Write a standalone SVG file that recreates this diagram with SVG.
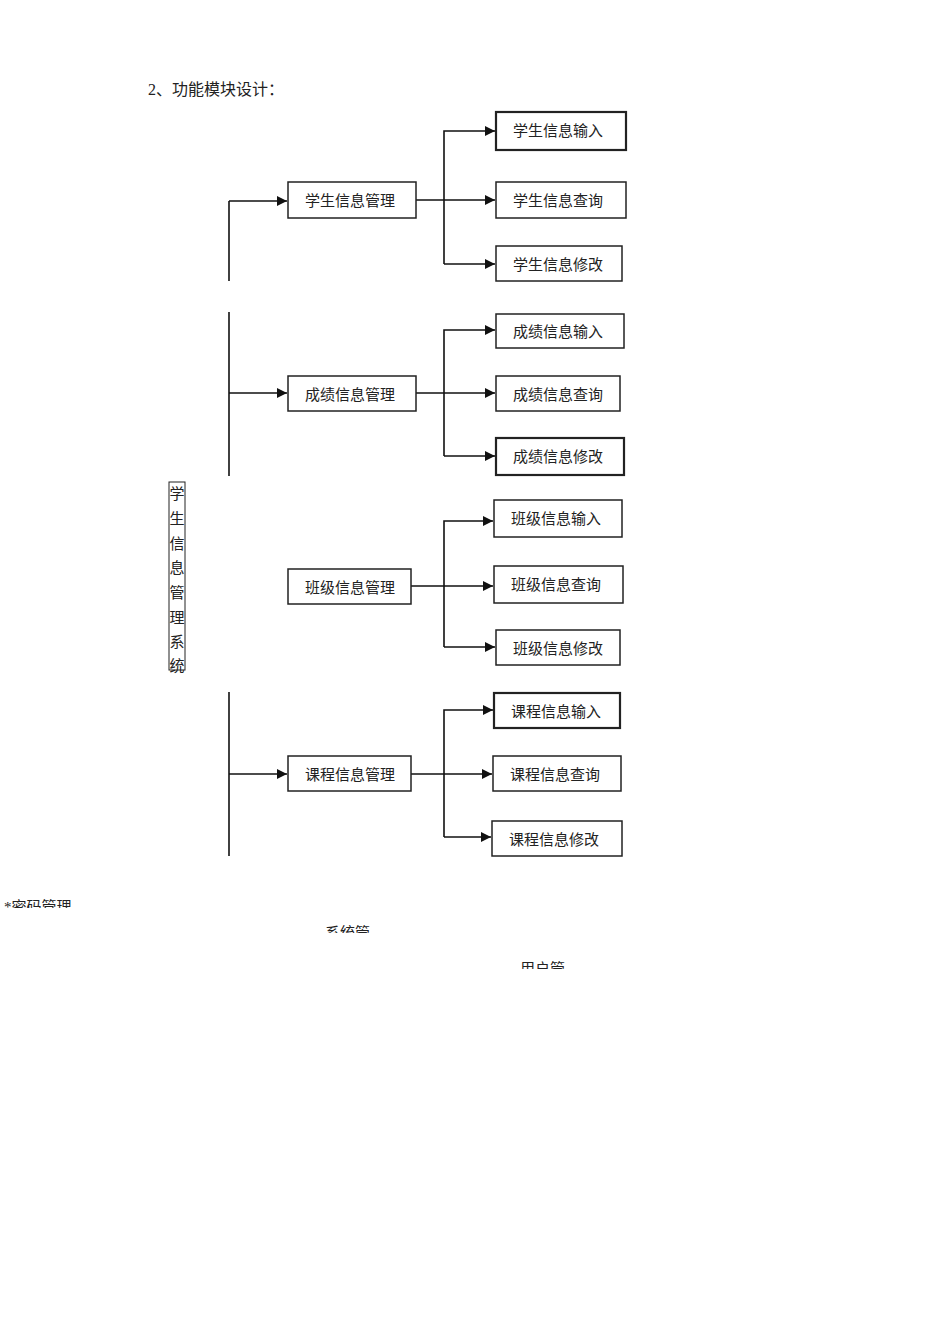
<svg xmlns="http://www.w3.org/2000/svg" width="950" height="1318" viewBox="0 0 950 1318">
<defs>
<style>
text{font-family:"Liberation Serif","Noto Sans CJK SC",serif;fill:#222}
.n{font-size:15px;text-anchor:middle}
rect{fill:#fff;stroke:#222;stroke-width:1.5}
.c path,.c line{fill:none;stroke:#111;stroke-width:1.6}
</style>
<marker id="a" viewBox="0 0 10 10" refX="10" refY="5" markerWidth="10" markerHeight="10" orient="auto" markerUnits="userSpaceOnUse"><path d="M0,0L10,5L0,10z" fill="#111"/></marker>
<clipPath id="cl"><rect x="0" y="898" width="950" height="10"/><rect x="0" y="925" width="950" height="8"/><rect x="0" y="960" width="950" height="9"/></clipPath>
</defs>
<rect width="950" height="1318" style="fill:#fff;stroke:none"/>
<text x="148" y="95" style="font-size:16px">2、功能模块设计：</text>
<g id="root"><rect x="169" y="482" width="16" height="188" style="stroke-width:1"/>
<text style="font-size:15px" text-anchor="middle"><tspan x="177" y="499">学</tspan><tspan x="177" y="524">生</tspan><tspan x="177" y="549">信</tspan><tspan x="177" y="573">息</tspan><tspan x="177" y="598">管</tspan><tspan x="177" y="623">理</tspan><tspan x="177" y="647">系</tspan><tspan x="177" y="671">统</tspan></text></g>
<g class="c">
<line x1="229" y1="281" x2="229" y2="201"/><path d="M229,201H287" marker-end="url(#a)"/>
<path d="M416,200H495" marker-end="url(#a)"/><path d="M444,264V131H495" marker-end="url(#a)"/><path d="M444,264H495" marker-end="url(#a)"/>
<line x1="229" y1="312" x2="229" y2="476"/><path d="M229,393H287" marker-end="url(#a)"/>
<path d="M416,393H495" marker-end="url(#a)"/><path d="M444,456V330H495" marker-end="url(#a)"/><path d="M444,456H495" marker-end="url(#a)"/>
<path d="M411,586H493" marker-end="url(#a)"/><path d="M444,647V521H493" marker-end="url(#a)"/><path d="M444,647H495" marker-end="url(#a)"/>
<line x1="229" y1="692" x2="229" y2="856"/><path d="M229,774H287" marker-end="url(#a)"/>
<path d="M411,774H492" marker-end="url(#a)"/><path d="M444,837V710H493" marker-end="url(#a)"/><path d="M444,837H491" marker-end="url(#a)"/>
</g>
<g id="m1"><rect x="288" y="182" width="128" height="36"/><text class="n" x="350" y="206">学生信息管理</text></g>
<g id="m1a"><rect x="496" y="112" width="130" height="38" style="stroke-width:2.2"/><text class="n" x="558" y="136">学生信息输入</text></g>
<g id="m1b"><rect x="496" y="182" width="130" height="36"/><text class="n" x="558" y="206">学生信息查询</text></g>
<g id="m1c"><rect x="496" y="246" width="126" height="35"/><text class="n" x="558" y="270">学生信息修改</text></g>
<g id="m2"><rect x="288" y="376" width="128" height="35"/><text class="n" x="350" y="400">成绩信息管理</text></g>
<g id="m2a"><rect x="496" y="314" width="128" height="34"/><text class="n" x="558" y="337">成绩信息输入</text></g>
<g id="m2b"><rect x="496" y="376" width="124" height="35"/><text class="n" x="558" y="400">成绩信息查询</text></g>
<g id="m2c"><rect x="496" y="438" width="128" height="37" style="stroke-width:2.2"/><text class="n" x="558" y="462">成绩信息修改</text></g>
<g id="m3"><rect x="288" y="569" width="123" height="35"/><text class="n" x="350" y="593">班级信息管理</text></g>
<g id="m3a"><rect x="494" y="500" width="128" height="37"/><text class="n" x="556" y="524">班级信息输入</text></g>
<g id="m3b"><rect x="494" y="566" width="129" height="37"/><text class="n" x="556" y="590">班级信息查询</text></g>
<g id="m3c"><rect x="496" y="630" width="124" height="35"/><text class="n" x="558" y="654">班级信息修改</text></g>
<g id="m4"><rect x="288" y="756" width="123" height="35"/><text class="n" x="350" y="780">课程信息管理</text></g>
<g id="m4a"><rect x="494" y="693" width="126" height="35" style="stroke-width:2.2"/><text class="n" x="556" y="717">课程信息输入</text></g>
<g id="m4b"><rect x="493" y="756" width="128" height="35"/><text class="n" x="555" y="780">课程信息查询</text></g>
<g id="m4c"><rect x="492" y="821" width="130" height="35"/><text class="n" x="554" y="845">课程信息修改</text></g>
<g clip-path="url(#cl)" style="font-size:15px">
<text x="4" y="912">*密码管理</text>
<text x="325" y="938">系统管</text>
<text x="520" y="974">用户管</text>
</g>
</svg>
